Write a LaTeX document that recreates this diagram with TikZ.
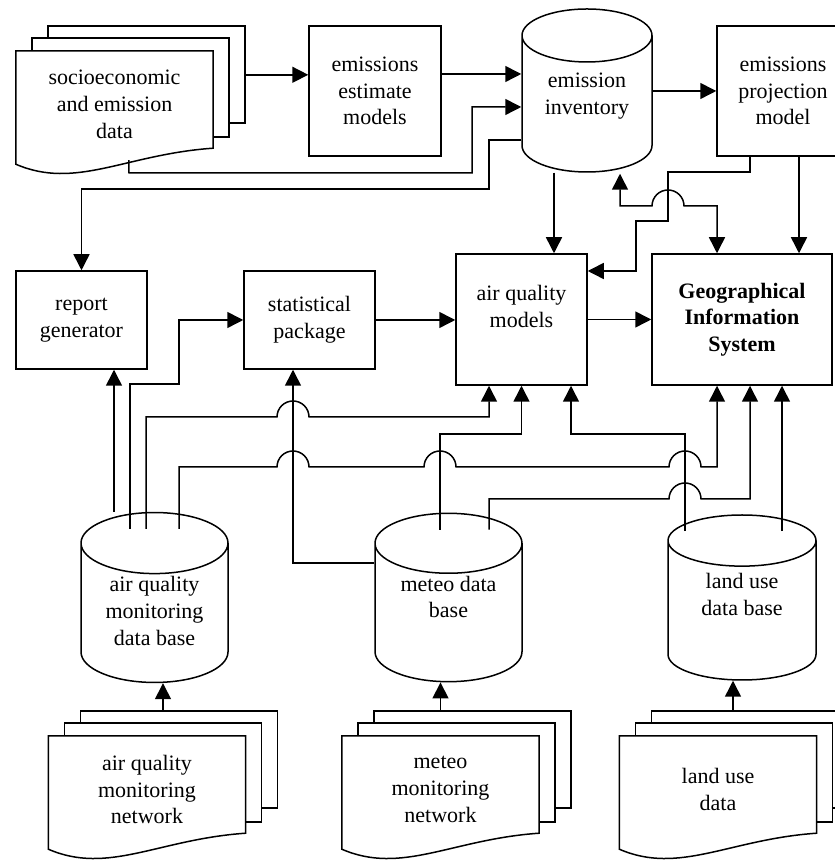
\documentclass[tikz,border=0pt]{standalone}
\usepackage{fontspec}
\setmainfont{Liberation Serif}
\usetikzlibrary{arrows.meta,shapes.geometric,calc}
\tikzset{
  box/.style={draw,line width=1.5pt,align=center,inner sep=2pt},
  store/.style={cylinder,shape border rotate=90,aspect=0.6,draw,line width=1.5pt,align=center,inner sep=2pt,anchor=shape center},
  docs/.style={minimum width=197pt,minimum height=107pt,inner sep=0pt,align=center},
  docline/.style={line width=1.5pt},
  arrow/.style={-{Triangle[length=16pt,width=16pt]},line width=1.5pt},
  twoway/.style={{Triangle[length=16pt,width=16pt]}-{Triangle[length=16pt,width=16pt]},line width=1.5pt}
}
\newcommand{\docstack}[1]{%
  \draw[docline] (#1.north west) -- (#1.north east) -- ($(#1.south east)+(0,10)$)
    .. controls ($(#1.south west)+(110,4)$) and ($(#1.south west)+(60,-32)$) .. ($(#1.south west)+(0,-6)$) -- cycle;
  \draw[docline] ($(#1.north west)+(16,0)$) -- ++(0,13) -- ($(#1.north east)+(16,13)$) -- ($(#1.south east)+(16,21)$) -- ($(#1.south east)+(0,21)$);
  \draw[docline] ($(#1.north west)+(32,13)$) -- ++(0,12) -- ($(#1.north east)+(32,25)$) -- ($(#1.south east)+(32,35)$) -- ($(#1.south east)+(16,35)$);
}
\begin{document}
\begin{tikzpicture}[x=1pt,y=1pt,font=\fontsize{22}{26.7}\selectfont]
  \useasboundingbox (0,0) rectangle (835,862);

  \node[docs] (socio) at (114.5,757.5) {socioeconomic\\and emission\\data};
  \node[box,minimum width=132pt,minimum height=130pt] (estimate) at (375,771) {emissions\\estimate\\models};
  \node[store,minimum width=130pt,minimum height=163pt] (inv) at (587,771.5) {emission\\inventory\\\mbox{}};
  \node[box,minimum width=132pt,minimum height=130pt] (proj) at (783,771) {emissions\\projection\\model};

  \node[box,minimum width=131pt,minimum height=98pt] (report) at (81.5,542) {report\\generator};
  \node[box,minimum width=131pt,minimum height=98pt] (stat) at (309.5,542) {statistical\\package};
  \node[box,minimum width=131pt,minimum height=131pt] (aqm) at (521.5,542.5) {air quality\\models\\\mbox{}};
  \node[box,minimum width=180pt,minimum height=131pt,font=\fontsize{22}{26.7}\selectfont\bfseries] (gis) at (742,542.5) {Geographical\\Information\\System};

  \node[store,minimum width=147pt,minimum height=165pt] (aqdb) at (154.5,264.5) {air quality\\monitoring\\data base\\[-14.7pt]\mbox{}};
  \node[store,minimum width=147pt,minimum height=165pt] (metdb) at (448.5,264.5) {meteo data\\base\\[12pt]\mbox{}};
  \node[store,minimum width=148pt,minimum height=165pt] (landdb) at (742,264.5) {land use\\data base\\[12pt]\mbox{}};

  \node[docs] (aqnet) at (147,72.5) {air quality\\monitoring\\network};
  \node[docs] (metnet) at (440.5,72.5) {meteo\\monitoring\\network};
  \node[docs] (landnet) at (718,72.5) {land use\\data};
  \docstack{socio}
  \docstack{aqnet}
  \docstack{metnet}
  \docstack{landnet}

  \coordinate (socioout) at ($(socio.north east)+(32,-24)$);
  \draw[arrow] (socioout) -- (socioout -| estimate.west);
  \draw[arrow] ($(socio.south west)+(113,-2)$) -- (129,689) -| (472,755) -- (inv.west |- 0,755);
  \draw[arrow] (estimate.east |- 0,788) -- (inv.west |- 0,788);
  \draw[arrow] (inv.west |- 0,722) -| (489,673) -| (report.north);
  \draw[arrow] (inv.east |- 0,771) -- (proj.west |- 0,771);
  \draw[arrow] (554,0 |- inv.south) -- (554,0 |- aqm.north);
  \draw[arrow] (799,0 |- proj.south) -- (799,0 |- gis.north);
  \draw[arrow] (750,0 |- proj.south) -- (750,690) -| (668,641) -| (636,591) -- (aqm.east |- 0,591);
  \draw[twoway] (717,0 |- gis.north) -- (717,656) -- (684,656) arc[start angle=0,end angle=180,radius=16] -- (620,656) -- ($(inv.south)+(33,-1)$);

  \draw[arrow] (stat.east) -- (stat.east -| aqm.west);
  \draw[arrow] (aqm.east) -- (gis.west);

  \draw[arrow] ($(aqdb.north)+(-40.5,0)$) -- (114,0 |- report.south);
  \draw[arrow] ($(aqdb.north)+(-24.5,-17)$) -- (130,478) -| (179,542) -- (stat.west);
  \draw[arrow] ($(aqdb.north)+(-8.5,-17)$) -- (146,445) -- (277,445) arc[start angle=180,end angle=0,radius=16] -| (489,0 |- aqm.south);
  \draw[arrow] ($(aqdb.north)+(24.5,-17)$) -- (179,395) -- (277,395) arc[start angle=180,end angle=0,radius=16]
    -- (424,395) arc[start angle=180,end angle=0,radius=16]
    -- (669,395) arc[start angle=180,end angle=0,radius=16] -| (717,0 |- gis.south);
  \draw[arrow] (metdb.west |- 0,299) -| (293,0 |- stat.south);
  \draw[arrow] ($(metdb.north)+(-8.5,-17)$) -- (440,428) -| (aqm.south);
  \draw[arrow] ($(metdb.north)+(40.5,-17)$) -- (489,363) -- (669,363) arc[start angle=180,end angle=0,radius=16] -| (750,0 |- gis.south);
  \draw[arrow] ($(landdb.north)+(-57,-17)$) -- (685,428) -| (571,0 |- aqm.south);
  \draw[arrow] ($(landdb.north)+(40,-17)$) -- (782,0 |- gis.south);

  \draw[arrow] ($(aqnet.north)+(16,25)$) -- (163,0 |- aqdb.south);
  \draw[arrow] ($(metnet.north)+(0,25)$) -- (440.5,0 |- metdb.south);
  \draw[arrow] ($(landnet.north)+(15,25)$) -- (733,0 |- landdb.south);
\end{tikzpicture}
\end{document}
